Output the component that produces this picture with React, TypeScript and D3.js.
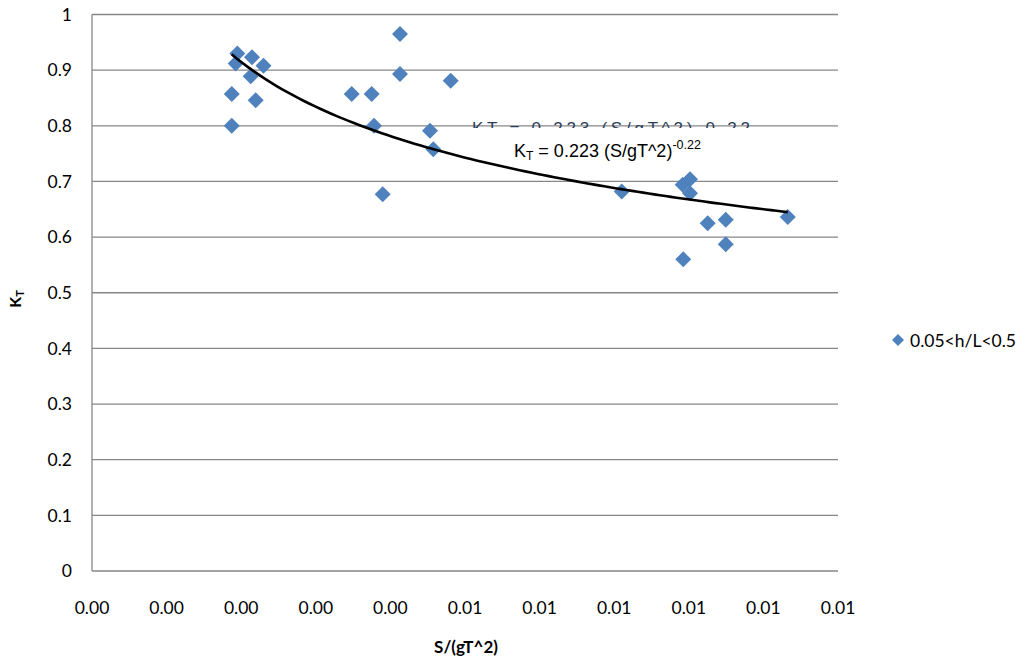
import React, { useEffect, useRef } from 'react';
import * as d3 from 'd3';

// S/(gT^2) values of each measured point
const sValues = [
  0.001873, 0.001873, 0.001926, 0.001948, 0.002127, 0.002145, 0.002194, 0.002299,
  0.003481, 0.003749, 0.003780, 0.003897, 0.004129, 0.004129, 0.004531, 0.004575,
  0.004808, 0.007101, 0.007918, 0.007926, 0.008016, 0.008016, 0.008253, 0.008495,
  0.008495, 0.009326,
];
// K_T value of each point
const ktValues = [
  0.857, 0.800, 0.912, 0.930, 0.889, 0.923, 0.846, 0.908,
  0.857, 0.857, 0.800, 0.677, 0.965, 0.893, 0.791, 0.758,
  0.881, 0.682, 0.694, 0.560, 0.704, 0.679, 0.625, 0.631,
  0.587, 0.636,
];

const xTicks = [0, 0.001, 0.002, 0.003, 0.004, 0.005, 0.006, 0.007, 0.008, 0.009, 0.01];
const xTickLabels = ['0.00', '0.00', '0.00', '0.00', '0.00', '0.01', '0.01', '0.01', '0.01', '0.01', '0.01'];
const yTicks = [0, 0.1, 0.2, 0.3, 0.4, 0.5, 0.6, 0.7, 0.8, 0.9, 1];
const yTickLabels = ['0', '0.1', '0.2', '0.3', '0.4', '0.5', '0.6', '0.7', '0.8', '0.9', '1'];

const seriesName = '0.05<h/L<0.5';

const App = () => {
  const svgRef = useRef<SVGSVGElement | null>(null);

  useEffect(() => {
    document.body.style.margin = '0';

    const width = 1036;
    const height = 666;
    const left = 92;
    const right = 838;
    const top = 14.5;
    const bottom = 571;
    const font = 'Lato, "Open Sans", sans-serif';
    const eqFont = '"Liberation Sans", Arial, sans-serif';
    const gridColor = '#878787';
    const blue = '#4F81BD';

    const svg = d3.select(svgRef.current);
    svg.selectAll('*').remove();
    svg.attr('width', width).attr('height', height);

    svg.append('rect').attr('width', width).attr('height', height).attr('fill', '#fff');

    const x = d3.scaleLinear().domain([0, 0.01]).range([left, right]);
    const y = d3.scaleLinear().domain([0, 1]).range([bottom, top]);

    // horizontal gridlines
    svg.append('g')
      .selectAll('line')
      .data(yTicks)
      .join('line')
      .attr('x1', left)
      .attr('x2', right)
      .attr('y1', d => y(d))
      .attr('y2', d => y(d))
      .attr('stroke', gridColor)
      .attr('stroke-width', 1.3);

    // left axis line
    svg.append('line')
      .attr('x1', left).attr('x2', left)
      .attr('y1', top).attr('y2', bottom)
      .attr('stroke', gridColor)
      .attr('stroke-width', 1.3);

    // y tick labels
    svg.append('g')
      .selectAll('text')
      .data(yTicks)
      .join('text')
      .attr('x', 72)
      .attr('y', d => y(d))
      .attr('dy', '0.36em')
      .attr('text-anchor', 'end')
      .style('font-family', font)
      .style('font-size', '17.5px')
      .attr('fill', '#000')
      .text((d, i) => yTickLabels[i]);

    // x tick labels
    svg.append('g')
      .selectAll('text')
      .data(xTicks)
      .join('text')
      .attr('x', d => x(d))
      .attr('y', 614)
      .attr('text-anchor', 'middle')
      .style('font-family', font)
      .style('font-size', '17.5px')
      .attr('fill', '#000')
      .text((d, i) => xTickLabels[i]);

    // axis titles
    svg.append('text')
      .attr('x', 466)
      .attr('y', 653)
      .attr('text-anchor', 'middle')
      .style('font-family', font)
      .style('font-size', '17px')
      .style('font-weight', 'bold')
      .text('S/(gT^2)');

    const yTitle = svg.append('text')
      .attr('transform', 'translate(21, 299) rotate(-90)')
      .attr('text-anchor', 'middle')
      .style('font-family', font)
      .style('font-size', '16px')
      .style('font-weight', 'bold');
    yTitle.append('tspan').text('K');
    yTitle.append('tspan').attr('dy', 3).style('font-size', '11px').text('T');

    // power trendline, least squares in log-log space
    const lx = sValues.map(v => Math.log(v));
    const ly = ktValues.map(v => Math.log(v));
    const mx = d3.mean(lx) as number;
    const my = d3.mean(ly) as number;
    const b = d3.sum(lx.map((v, i) => (v - mx) * (ly[i] - my))) / d3.sum(lx.map(v => (v - mx) ** 2));
    const a = Math.exp(my - b * mx);
    const [xMin, xMax] = d3.extent(sValues) as [number, number];
    const trendX = d3.range(0, 101).map(i => xMin + (xMax - xMin) * i / 100);
    const line = d3.line<number>()
      .x(d => x(d))
      .y(d => y(a * Math.pow(d, b)));

    // faded original label, mostly covered by a white box
    const clip = svg.append('clipPath').attr('id', 'ghost-clip');
    clip.append('rect').attr('x', 466).attr('y', 100).attr('width', 285).attr('height', 28);
    svg.append('text')
      .attr('x', 472)
      .attr('y', 134)
      .attr('clip-path', 'url(#ghost-clip)')
      .style('font-family', eqFont)
      .style('font-size', '17px')
      .attr('fill', '#2d3d5c')
      .attr('textLength', 278)
      .text('KT = 0.223 (S/gT^2)-0.22');

    // markers
    svg.append('g')
      .selectAll('path')
      .data(sValues)
      .join('path')
      .attr('d', d3.symbol().type(d3.symbolSquare).size(128))
      .attr('transform', (d, i) => `translate(${x(d)}, ${y(ktValues[i])}) rotate(45)`)
      .attr('fill', blue);

    svg.append('path')
      .datum(trendX)
      .attr('d', line)
      .attr('fill', 'none')
      .attr('stroke', '#000')
      .attr('stroke-width', 2.6);

    // trendline equation
    const eq = svg.append('text')
      .attr('x', 514)
      .attr('y', 157)
      .style('font-family', eqFont)
      .style('font-size', '18px')
      .attr('fill', '#000');
    eq.append('tspan').text('K');
    eq.append('tspan').attr('dy', 3).style('font-size', '12px').text('T');
    eq.append('tspan').attr('dy', -3).text(' = 0.223 (S/gT^2)');
    eq.append('tspan').attr('dy', -8).style('font-size', '12.5px').text('-0.22');

    // legend
    svg.append('path')
      .attr('d', d3.symbol().type(d3.symbolSquare).size(72))
      .attr('transform', 'translate(898, 340) rotate(45)')
      .attr('fill', blue);
    svg.append('text')
      .attr('x', 910)
      .attr('y', 347)
      .style('font-family', font)
      .style('font-size', '17.5px')
      .text(seriesName);
  }, []);

  return (
    <div style={{ width: '1036px', height: '666px' }}>
      <svg ref={svgRef} style={{ display: 'block' }}></svg>
    </div>
  );
};

export default App;
